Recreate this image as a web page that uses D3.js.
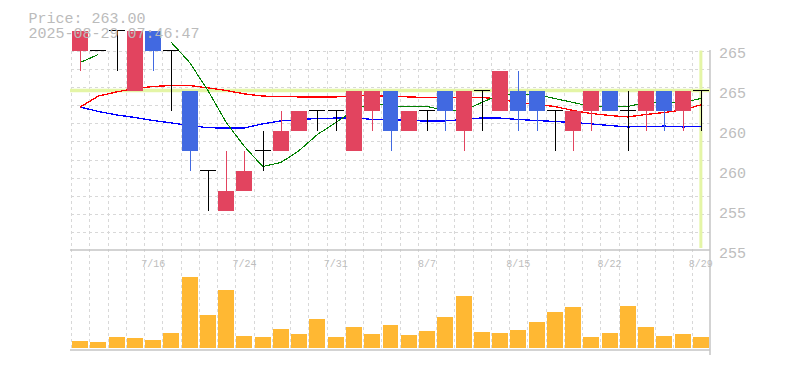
<!DOCTYPE html>
<html>
<head>
<meta charset="utf-8">
<script src="https://cdn.jsdelivr.net/npm/d3@7"></script>
<style>
  html, body { margin: 0; padding: 0; background: #fff; }
  svg { display: block; }
  text { font-family: "Liberation Mono", "DejaVu Sans Mono", monospace; }
</style>
</head>
<body>
<svg id="chart" width="785" height="370"></svg>
<script>
// ---------------- data ----------------
const dates = ["7/10","7/11","7/14","7/15","7/16","7/17","7/18","7/22","7/23","7/24",
  "7/25","7/28","7/29","7/30","7/31","8/1","8/4","8/5","8/6","8/7",
  "8/8","8/12","8/13","8/14","8/15","8/18","8/19","8/20","8/21","8/22",
  "8/25","8/26","8/27","8/28","8/29"];
const openP  = [265,265,266,263,266,265,263,259,257,258,260,260,261,262,262,260,262,263,261,262,263,261,263,262,263,263,262,261,262,263,262,262,263,262,263];
const highP  = [266,265,266,266,266,265,263,259,260,260,261,262,262,262,262,263,263,263,262,262,263,263,263,264,264,263,262,262,263,263,263,263,263,263,263];
const lowP   = [264,265,264,263,264,262,259,257,257,258,259,260,261,261,261,260,261,260,261,261,261,260,261,262,261,261,260,260,261,262,260,261,261,261,261];
const closeP = [266,265,266,266,265,265,260,259,258,259,260,261,262,262,262,263,263,261,262,262,262,263,263,264,262,262,262,262,263,262,262,263,262,263,263];
const volume = [2000,1700,3200,2900,2300,4400,21200,9800,17300,3500,3200,5600,4100,8600,3200,6200,4100,6800,3800,5000,
  9200,15500,4700,4400,5300,7700,10700,12200,3200,4400,12500,6200,3500,4100,3200];
const maShort = [264.4,264.8,null,null,null,265.4,264.4,263.0,261.4,260.2,259.2,259.4,260.0,260.8,261.4,262.0,262.4,262.2,262.2,262.2,
  262.0,262.0,262.4,262.8,262.8,262.8,262.6,262.4,262.2,262.2,262.2,262.4,262.4,262.4,262.6];
const maMid = [262.17,262.72,262.93,263.1,263.2,263.25,263.25,263.13,263.0,262.83,262.72,262.7,262.68,262.67,262.68,262.73,262.75,262.7,262.68,262.65,
  262.64,262.64,262.65,262.58,262.38,262.3,262.2,262.0,261.85,261.75,261.68,261.8,261.9,262.03,262.28];
const maLong = [262.17,261.95,261.78,261.65,261.5,261.38,261.25,261.14,261.12,261.13,261.33,261.48,261.55,261.6,261.62,261.64,261.55,261.54,261.5,261.47,
  261.48,261.55,261.63,261.62,261.55,261.5,261.45,261.4,261.33,261.25,261.18,261.2,261.22,261.18,261.2];
const yTickValues = [265,263,261,259,257,255];
const yTickLabels = ["265","265","260","260","255","255"];
const xTickLabels = ["7/16","7/24","7/31","8/7","8/15","8/22","8/29"];
const lastPrice = 263;
const titlePrice = "Price: 263.00";
const titleTime = "2025-08-29 07:46:47";

// ---------------- layout ----------------
const L = 71, R = 710, PT = 50.5, PB = 250.5, VT = 250, VB = 350;
const svg = d3.select("#chart");

const x = d3.scaleBand().domain(dates).range([L, R]).paddingInner(0.124).paddingOuter(0.062);
const step = x.step(), bw = x.bandwidth();
const cx = d => x(d) + bw / 2;
const y = d3.scaleLinear().domain([255, 265]).range([PB, PT]);
const yv = d3.scaleLinear().domain([0, 30000]).range([348, 248]);

const gridColor = "#d8d8d8";
const gGrid = svg.append("g").attr("stroke", gridColor).attr("stroke-dasharray", "3,3").attr("shape-rendering", "crispEdges");
gGrid.selectAll("line.v").data(dates).join("line")
  .attr("x1", d => Math.round(x(d) - (step - bw) / 2) + 0.5)
  .attr("x2", d => Math.round(x(d) - (step - bw) / 2) + 0.5)
  .attr("y1", PT).attr("y2", VB);
const hGrid = d3.range(11).map(k => y.invert(PT + k * (PB - PT) / 11));
gGrid.selectAll("line.h").data(hGrid).join("line")
  .attr("x1", L).attr("x2", R)
  .attr("y1", d => Math.round(y(d)) + 0.5).attr("y2", d => Math.round(y(d)) + 0.5);

// frame
const frame = svg.append("g").attr("stroke", "#c4c4c4").attr("stroke-width", 1.5).attr("fill", "none");
frame.append("line").attr("x1", L - 1).attr("x2", R).attr("y1", VT).attr("y2", VT);
frame.append("line").attr("x1", L - 1).attr("x2", R).attr("y1", VB).attr("y2", VB);
frame.append("line").attr("x1", R).attr("x2", R).attr("y1", PT - 0.5).attr("y2", VB + 5);

// current price highlight lines
const hl = "#e4f5a6";
svg.append("line").attr("x1", L - 1).attr("x2", R).attr("y1", y(lastPrice)).attr("y2", y(lastPrice))
  .attr("stroke", hl).attr("stroke-width", 3.5);
svg.append("line").attr("x1", cx(dates[dates.length - 1])).attr("x2", cx(dates[dates.length - 1]))
  .attr("y1", PT).attr("y2", VT - 2).attr("stroke", hl).attr("stroke-width", 3);

// volume bars
svg.append("g").attr("shape-rendering", "crispEdges").selectAll("rect").data(dates).join("rect")
  .attr("x", d => x(d)).attr("width", bw)
  .attr("y", (d, i) => yv(volume[i])).attr("height", (d, i) => yv(0) - yv(volume[i]))
  .attr("fill", "#ffb833");

// x labels
svg.append("g").selectAll("text").data(xTickLabels).join("text")
  .attr("x", d => cx(d)).attr("y", 266.5).attr("text-anchor", "middle")
  .attr("font-size", 10).attr("fill", "#bdbdbd").text(d => d);

// moving averages
const mkLine = arr => d3.line().defined((d, i) => arr[i] !== null)
  .x(d => cx(d)).y((d, i) => y(arr[i]));
const gMA = svg.append("g").attr("fill", "none").attr("shape-rendering", "crispEdges");
gMA.append("path").attr("d", mkLine(maLong)(dates)).attr("stroke", "#0000ff").attr("stroke-width", 1.3);
gMA.append("path").attr("d", mkLine(maMid)(dates)).attr("stroke", "#ff0000").attr("stroke-width", 1.3);
gMA.append("path").attr("d", mkLine(maShort)(dates)).attr("stroke", "#008000").attr("stroke-width", 1.1);

// candles
const upC = "#e2445f", dnC = "#4169e1";
const gC = svg.append("g").attr("shape-rendering", "crispEdges");
dates.forEach((d, i) => {
  const o = openP[i], h = highP[i], l = lowP[i], c = closeP[i];
  const col = c > o ? upC : (c < o ? dnC : "#000");
  const mx = Math.round(cx(d)) + 0.5;
  if (h !== l) {
    gC.append("line").attr("x1", mx).attr("x2", mx).attr("y1", y(h)).attr("y2", y(l))
      .attr("stroke", col).attr("stroke-width", 1.5);
  }
  if (c === o) {
    gC.append("line").attr("x1", x(d)).attr("x2", x(d) + bw).attr("y1", y(o)).attr("y2", y(o))
      .attr("stroke", "#000").attr("stroke-width", 1.5);
  } else {
    gC.append("rect").attr("x", x(d)).attr("width", bw)
      .attr("y", y(Math.max(o, c))).attr("height", y(Math.min(o, c)) - y(Math.max(o, c)))
      .attr("fill", col);
  }
});

// y labels
svg.append("g").selectAll("text").data(yTickValues).join("text")
  .attr("x", 719).attr("y", d => y(d) + 7.5)
  .attr("font-size", 15).attr("fill", "#bdbdbd").text((d, i) => yTickLabels[i]);

// title
svg.append("text").attr("x", 28.5).attr("y", 22.5).attr("font-size", 15).attr("fill", "#bbbbbb").text(titlePrice);
svg.append("text").attr("x", 28.5).attr("y", 38).attr("font-size", 15).attr("fill", "#bbbbbb").text(titleTime);
</script>
</body>
</html>
